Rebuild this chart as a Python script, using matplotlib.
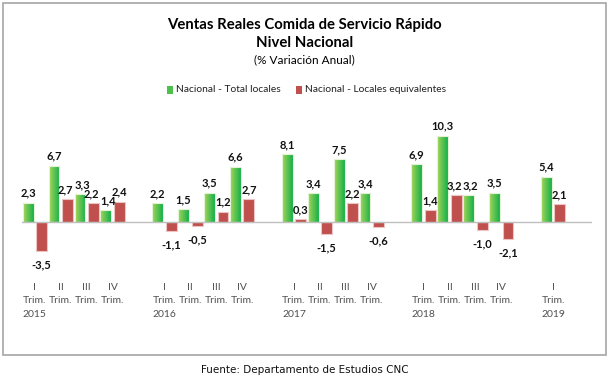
import numpy as np
import matplotlib
matplotlib.use('Agg')
import matplotlib.pyplot as plt
from matplotlib.colors import LinearSegmentedColormap
from matplotlib.patches import Rectangle

# Data (variacion anual %, por trimestre)
years = ['2015', '2016', '2017', '2018', '2019']
quarters = ['I', 'II', 'III', 'IV']
total_locales = [[2.3, 6.7, 3.3, 1.4],
                 [2.2, 1.5, 3.5, 6.6],
                 [8.1, 3.4, 7.5, 3.4],
                 [6.9, 10.3, 3.2, 3.5],
                 [5.4]]
locales_equiv = [[-3.5, 2.7, 2.2, 2.4],
                 [-1.1, -0.5, 1.2, 2.7],
                 [0.3, -1.5, 2.2, -0.6],
                 [1.4, 3.2, -1.0, -2.1],
                 [2.1]]

# build category axis with an empty slot between years
pos, green, red, labels = [], [], [], []
k = 0
for y, g_vals, r_vals in zip(years, total_locales, locales_equiv):
    for i, (g, r) in enumerate(zip(g_vals, r_vals)):
        pos.append(k)
        green.append(g)
        red.append(r)
        lab = quarters[i] + '\nTrim.'
        if i == 0:
            lab += '\n' + y
        labels.append(lab)
        k += 1
    k += 1
pos = np.array(pos)
ncat = k - 1

plt.rcParams['font.family'] = ['Lato', 'DejaVu Sans']

fig = plt.figure(figsize=(6.09, 3.80), dpi=100)
ax = fig.add_axes([0.036, 0.271, 0.936, 0.44])

w = 0.42
off = 0.26
gbars = ax.bar(pos - off, green, w, facecolor='none', edgecolor='#E4F2D6', lw=0.8, zorder=3)
rbars = ax.bar(pos + off, red, w, color='#C0504D', edgecolor='#EBC4C3', lw=0.8, zorder=3)

# gradient fill for the green bars
cmap = LinearSegmentedColormap.from_list('verde', ['#A6D65A', '#14B04A'])
grad = np.linspace(0, 1, 64).reshape(1, -1)
for b in gbars:
    x0, y0 = b.get_x(), b.get_y()
    im = ax.imshow(grad, cmap=cmap, aspect='auto', zorder=2,
                   extent=[x0, x0 + b.get_width(), y0, y0 + b.get_height()])
    im.set_clip_path(b)

ax.axhline(0, color='#BFBFBF', lw=1, zorder=4)

def fmt(v):
    return ('%.1f' % v).replace('.', ',')

def put_label(b, v, dx=0):
    xc = b.get_x() + b.get_width() / 2
    if v >= 0:
        ax.annotate(fmt(v), (xc, v), xytext=(dx, 3), textcoords='offset points',
                    ha='center', va='bottom', fontsize=8, fontweight='bold', color='#111111')
    else:
        ax.annotate(fmt(v), (xc, v), xytext=(dx, -6), textcoords='offset points',
                    ha='center', va='top', fontsize=8, fontweight='bold', color='#111111')

# nudge neighbouring labels apart when they sit at almost the same height
shift_r = [0.0] * len(red)
shift_g = [0.0] * len(green)
for i in range(len(red) - 1):
    if pos[i + 1] == pos[i] + 1 and red[i] > 0 and green[i + 1] > 0 and abs(red[i] - green[i + 1]) < 1:
        shift_r[i] = -1.5
        shift_g[i + 1] = 1.5

for b, v, d in zip(gbars, green, shift_g):
    put_label(b, v, d)
for b, v, d in zip(rbars, red, shift_r):
    put_label(b, v, d)

ax.set_xlim(-0.5, ncat + 0.5)
ax.set_ylim(-6.6, 13.4)
ax.set_xticks(pos)
ax.set_xticklabels(labels, fontsize=7.5, color='#505050', linespacing=1.6, va='top')
ax.tick_params(axis='x', length=0, pad=4.5)
ax.set_yticks([])
for s in ax.spines.values():
    s.set_visible(False)

# titles and legend
fig.text(0.5, 1 - 25 / 380, 'Ventas Reales Comida de Servicio Rápido', ha='center', va='center',
         fontsize=10.7, fontweight='bold')
fig.text(0.5, 1 - 43 / 380, 'Nivel Nacional', ha='center', va='center', fontsize=10.7, fontweight='bold')
fig.text(0.5, 1 - 60 / 380, '(% Variación Anual)', ha='center', va='center', fontsize=8.5)

ly = 1 - 90 / 380
fig.patches.append(Rectangle((167 / 609, ly - 0.011), 6 / 609, 0.021, transform=fig.transFigure,
                             facecolor='#4CC04A', edgecolor='none'))
fig.text(176 / 609, ly, 'Nacional - Total locales', va='center', fontsize=7.4, color='#222222')
fig.patches.append(Rectangle((296 / 609, ly - 0.011), 6 / 609, 0.021, transform=fig.transFigure,
                             facecolor='#C0504D', edgecolor='none'))
fig.text(305 / 609, ly, 'Nacional - Locales equivalentes', va='center', fontsize=7.4, color='#222222')

# chart border
fig.patches.append(Rectangle((3 / 609, 1 - 355 / 380), 603 / 609, 352 / 380, transform=fig.transFigure,
                             facecolor='none', edgecolor='#A6A6A6', lw=1.2))

fig.text(0.5, 1 - 370 / 380, 'Fuente: Departamento de Estudios CNC', ha='center', va='center',
         fontsize=7.5, family='DejaVu Sans', color='#111111')

fig.savefig('out.png', dpi=100)
